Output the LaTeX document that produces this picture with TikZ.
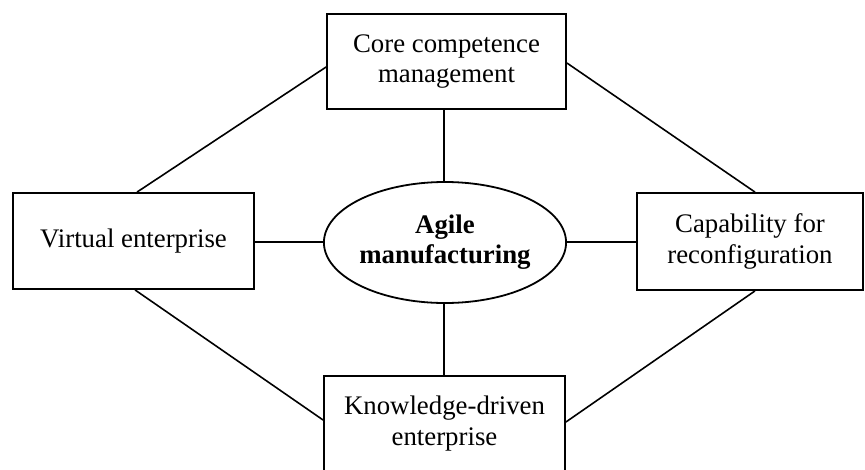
\documentclass[tikz,border=0pt]{standalone}
\usepackage{fontspec}
\setmainfont{Liberation Serif}
\usetikzlibrary{shapes.geometric}
\begin{document}
\begin{tikzpicture}[x=1pt,y=-1pt,
  box/.style={draw, line width=1.8pt, align=center, inner sep=0pt,
    font=\fontsize{26.8}{30.5}\selectfont},
  oval/.style={draw, ellipse, line width=1.8pt, align=center, inner sep=0pt,
    font=\fontsize{26.8}{30}\selectfont\bfseries},
  link/.style={line width=1.6pt}]
\useasboundingbox (0,0) rectangle (865,469);
\node[box, minimum width=239pt, minimum height=95pt] (T) at (446.5,61.5) {Core competence\\management};
\node[box, minimum width=241pt, minimum height=96pt] (L) at (133.5,241) {Virtual enterprise};
\node[box, minimum width=226pt, minimum height=97pt] (R) at (750,241.5) {Capability for\\reconfiguration};
\node[box, minimum width=241pt, minimum height=95pt] (B) at (444.5,423.5) {Knowledge-driven\\enterprise};
\node[oval, minimum width=240pt, minimum height=121pt] (A) at (445,242.5) {Agile\\manufacturing};
% spokes
\draw[link] ([xshift=-2.5pt]T.south) -- ([xshift=-1pt]A.north);
\draw[link] ([xshift=-1pt]A.south) -- ([xshift=-0.5pt]B.north);
\draw[link] ([yshift=-1pt]L.east) -- ([yshift=0.5pt]A.west);
\draw[link] ([yshift=0.5pt]A.east) -- ([yshift=-0.5pt]R.west);
% rim
\draw[link] ([xshift=3.5pt]L.north) -- ([yshift=-5.5pt]T.west);
\draw[link] ([yshift=-1.5pt]T.east) -- ([xshift=5pt]R.north);
\draw[link] ([xshift=1.5pt]L.south) -- ([yshift=3.5pt]B.west);
\draw[link] ([xshift=5pt]R.south) -- ([yshift=1.5pt]B.east);
\end{tikzpicture}
\end{document}
